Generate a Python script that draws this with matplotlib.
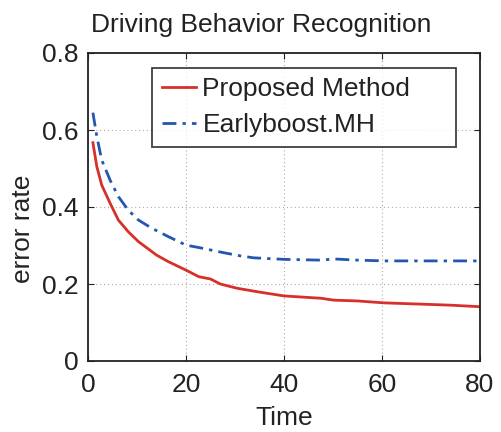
import matplotlib

matplotlib.use("Agg")
import matplotlib.pyplot as plt

plt.rcParams["font.family"] = ["Liberation Sans", "DejaVu Sans"]

# values
x_prop = [1, 1.8, 2.8, 4.5, 6.2, 8.2, 10.3, 14, 16.4, 20, 22.6, 25, 27, 30.4,
          34.5, 40, 47.5, 50.2, 55, 60.4, 67.3, 74, 80]
y_prop = [0.567, 0.505, 0.457, 0.41, 0.366, 0.336, 0.31, 0.275, 0.258, 0.236,
          0.219, 0.213, 0.2, 0.189, 0.18, 0.169, 0.163, 0.158, 0.156, 0.151,
          0.148, 0.145, 0.141]
x_early = [1, 1.8, 2.8, 4.5, 6.2, 8.2, 10.3, 13, 16.4, 20, 23.3, 27.4, 31.1,
           33.8, 40, 47.5, 50.2, 55, 60.4, 80]
y_early = [0.645, 0.583, 0.522, 0.47, 0.427, 0.392, 0.366, 0.345, 0.323, 0.301,
           0.293, 0.282, 0.273, 0.268, 0.264, 0.262, 0.265, 0.262, 0.26, 0.26]

fig = plt.figure(figsize=(5.01, 4.32), dpi=100)
ax = fig.add_axes([88 / 501, 1 - 361 / 432, 392 / 501, 308 / 432])
ax.plot(x_prop, y_prop, color="#d7302a", lw=2.0, label="Proposed Method")
ax.plot(x_early, y_early, color="#2456b0", lw=2.0, ls=(0, (5, 2.2, 1.2, 2.2)),
        label="Earlyboost.MH")
ax.set_xlim(0, 80)
ax.set_ylim(0, 0.8)
ax.set_xticks([0, 20, 40, 60, 80])
ax.set_yticks([0, 0.2, 0.4, 0.6, 0.8])
ax.set_yticklabels(["0", "0.2", "0.4", "0.6", "0.8"])
ax.tick_params(direction="in", labelsize=19, length=4, top=True, right=True,
               color="#222222", labelcolor="#222222")
ax.tick_params(axis="x", pad=9)
ax.tick_params(axis="y", pad=7)
ax.grid(True, ls=(0, (1, 2.5)), color="#aaaaaa", lw=0.8)
ax.set_xlabel("Time", fontsize=19, labelpad=6, color="#222222")
ax.set_ylabel("error rate", fontsize=19, color="#222222")
ax.yaxis.set_label_coords(-0.135, 0.43)
ax.set_title("Driving Behavior Recognition", fontsize=19, pad=15,
             x=0.442, color="#222222")
for s in ax.spines.values():
    s.set_linewidth(1.3)
    s.set_color("#222222")
leg = ax.legend(loc="upper left", bbox_to_anchor=(0.164, 0.705, 0.775, 0.247),
                mode="expand", borderaxespad=0, fontsize=19, frameon=True,
                fancybox=False, edgecolor="#111111", handlelength=1.3,
                handletextpad=0.25, borderpad=0.35, labelspacing=0.47)
leg.get_frame().set_linewidth(1.3)
for t in leg.get_texts():
    t.set_color("#222222")
fig.savefig("out.png", dpi=100, facecolor="white")
